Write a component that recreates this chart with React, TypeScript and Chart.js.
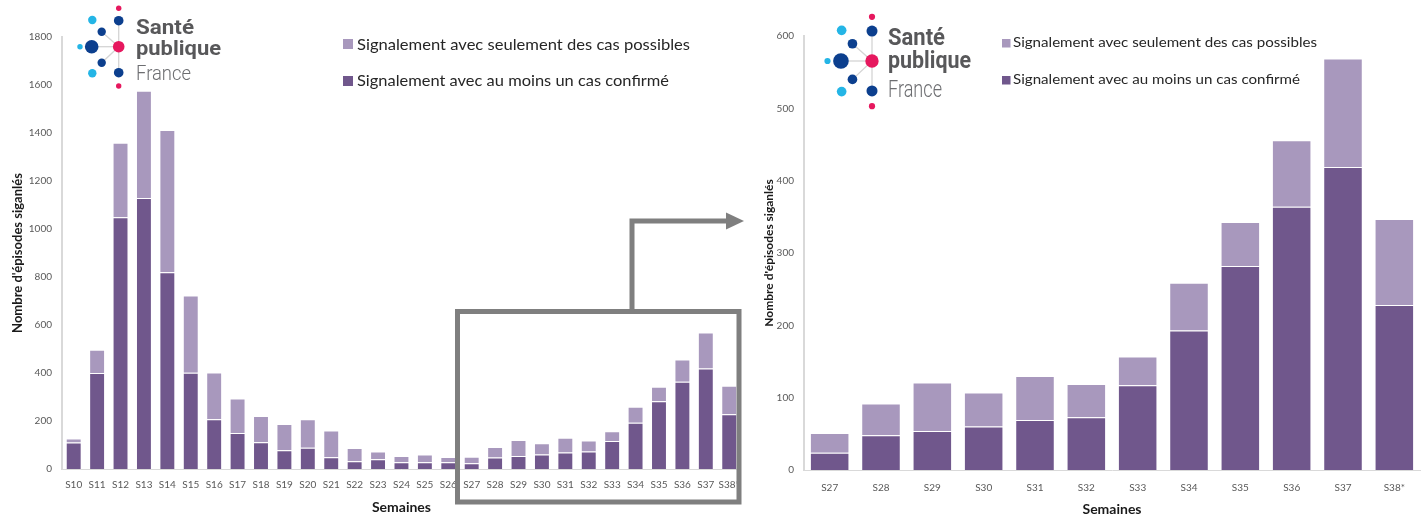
import React, { useEffect, useRef } from "react";
import { Chart, registerables } from "chart.js";

Chart.register(...registerables);

// ---------- DATA ----------
const weeks = [
  "S10", "S11", "S12", "S13", "S14", "S15", "S16", "S17", "S18", "S19",
  "S20", "S21", "S22", "S23", "S24", "S25", "S26", "S27", "S28", "S29",
  "S30", "S31", "S32", "S33", "S34", "S35", "S36", "S37", "S38*",
];
// Signalement avec au moins un cas confirmé
const confirmed = [
  110, 400, 1049, 1129, 820, 401, 207, 150, 111, 78,
  89, 49, 32, 41, 28, 28, 28, 24, 48, 54,
  60, 69, 73, 117, 193, 282, 364, 419, 228,
];
// Signalement avec seulement des cas possibles (stacked on top)
const possibleOnly = [
  17, 97, 310, 447, 592, 322, 195, 144, 110, 109,
  118, 111, 56, 32, 26, 32, 22, 27, 44, 67,
  47, 61, 46, 40, 66, 61, 92, 150, 119,
];
const zoomStart = 17; // S27 onward in the zoomed chart

const leftTicksMax = 1800;
const leftTicksStep = 200;
const rightTicksMax = 600;
const rightTicksStep = 100;

const legendPossible = "Signalement avec seulement des cas possibles";
const legendConfirmed = "Signalement avec au moins un cas confirmé";
const yTitle = "Nombre d'épisodes siganlés";
const xTitle = "Semaines";

// ---------- STYLE ----------
const DARK = "#70578c";
const LIGHT = "#a898bd";
const FONT = "Lato";

type Props = {
  labels: string[];
  conf: number[];
  poss: number[];
  max: number;
  step: number;
  left: number;
  width: number;
  padTop: number;
  padRight: number;
  yWidth: number;
  xHeight: number;
  barPct: number;
  tickPadX: number;
  xTitlePadBottom: number;
  yTitlePadTop: number;
  yTitleSize: number;
};

function StackedBars(p: Props) {
  const ref = useRef<HTMLCanvasElement | null>(null);
  useEffect(() => {
    if (!ref.current) return;
    const ds = (label: string, data: number[], color: string) => ({
      label,
      data,
      backgroundColor: color,
      borderColor: "rgba(255,255,255,0.45)",
      borderWidth: 1,
      barPercentage: p.barPct,
      categoryPercentage: 1,
    });
    const chart = new Chart(ref.current, {
      type: "bar",
      data: {
        labels: p.labels,
        datasets: [
          ds(legendConfirmed, p.conf, DARK),
          ds(legendPossible, p.poss, LIGHT),
        ],
      },
      options: {
        responsive: false,
        animation: false,
        devicePixelRatio: 1,
        layout: { padding: { top: p.padTop, right: p.padRight, left: 0, bottom: 0 } },
        plugins: { legend: { display: false }, tooltip: { enabled: false } },
        scales: {
          x: {
            stacked: true,
            grid: { display: false, drawTicks: false },
            border: { display: true, color: "#d9d9d9", width: 1 },
            ticks: {
              font: { family: FONT, size: 10 },
              color: "#595959",
              padding: p.tickPadX,
              maxRotation: 0,
              autoSkip: false,
            },
            title: {
              display: true,
              text: xTitle,
              font: { family: FONT, size: 14, weight: "bold" },
              color: "#1a1a1a",
              padding: { top: 0, bottom: p.xTitlePadBottom },
            },
            afterFit: (s: any) => {
              s.height = p.xHeight;
            },
          },
          y: {
            stacked: true,
            min: 0,
            max: p.max,
            grid: { display: false, drawTicks: false },
            border: { display: true, color: "#d9d9d9", width: 2 },
            ticks: {
              stepSize: p.step,
              font: { family: FONT, size: 10 },
              color: "#595959",
              padding: 10,
              callback: (v: any) => String(v),
            },
            title: {
              display: true,
              text: yTitle,
              font: { family: FONT, size: p.yTitleSize, weight: "bold" },
              color: "#1a1a1a",
              padding: { top: p.yTitlePadTop, bottom: 0 },
            },
            afterFit: (s: any) => {
              s.width = p.yWidth;
            },
          },
        },
      } as any,
    });
    return () => chart.destroy();
  }, []);
  return (
    <canvas
      ref={ref}
      width={p.width}
      height={520}
      style={{ position: "absolute", left: p.left, top: 0, width: p.width, height: 520 }}
    />
  );
}

const PINK = "#e6185e";
const BLUE = "#0c3f8e";
const CYAN = "#24b5e6";

const logoDots: [number, number, number, string][] = [
  [0, -38.4, 2.7, PINK],
  [0, -26, 4.8, BLUE],
  [-26.4, -26.7, 4.2, CYAN],
  [-17, -15, 4.2, BLUE],
  [-38.7, 0, 2.7, CYAN],
  [-27, 0, 6.8, BLUE],
  [0, 0, 5.8, PINK],
  [-17, 16, 4.2, BLUE],
  [-26.4, 26.6, 4.2, CYAN],
  [0, 26, 4.8, BLUE],
  [0, 39.3, 2.7, PINK],
];
const logoLines: [number, number][] = [
  [0, -26],
  [0, 26],
  [-27, 0],
  [-17, -15],
  [-17, 16],
];

function Logo({ cx, cy, s, tx, b1, b2, b3, fs, w1, w2, w3 }: any) {
  return (
    <g>
      {logoLines.map(([x, y], i) => (
        <line key={"l" + i} x1={cx} y1={cy} x2={cx + x * s} y2={cy + y * s} stroke="#d4d4d4" strokeWidth={1.3} />
      ))}
      {logoDots.map(([x, y, r, c], i) => (
        <circle key={"d" + i} cx={cx + x * s} cy={cy + y * s} r={r * s} fill={c} />
      ))}
      <text x={tx} y={b1} fontFamily="Roboto" fontWeight={700} fontSize={fs} fill="#58585a" textLength={w1} lengthAdjust="spacingAndGlyphs">Santé</text>
      <text x={tx} y={b2} fontFamily="Roboto" fontWeight={700} fontSize={fs} fill="#58585a" textLength={w2} lengthAdjust="spacingAndGlyphs">publique</text>
      <text x={tx} y={b3} fontFamily="Roboto" fontWeight={300} fontSize={fs} fill="#6d6e71" textLength={w3} lengthAdjust="spacingAndGlyphs">France</text>
    </g>
  );
}

function Legend({ x, y1, y2, sq, tx, b1, b2, fs, w1, w2 }: any) {
  return (
    <g>
      <rect x={x} y={y1} width={sq} height={sq} fill={LIGHT} />
      <text x={tx} y={b1} fontFamily={FONT} fontSize={fs} fill="#262626" textLength={w1} lengthAdjust="spacingAndGlyphs">{legendPossible}</text>
      <rect x={x} y={y2} width={sq} height={sq} fill={DARK} />
      <text x={tx} y={b2} fontFamily={FONT} fontSize={fs} fill="#262626" textLength={w2} lengthAdjust="spacingAndGlyphs">{legendConfirmed}</text>
    </g>
  );
}

export default function App() {
  return (
    <div style={{ position: "absolute", left: 0, top: 0, width: 1424, height: 520, background: "#fff", overflow: "hidden" }}>
      <StackedBars
        labels={weeks}
        conf={confirmed}
        poss={possibleOnly}
        max={leftTicksMax}
        step={leftTicksStep}
        left={0}
        width={750}
        padTop={37}
        padRight={8}
        yWidth={62}
        xHeight={51}
        barPct={0.68}
        tickPadX={10}
        xTitlePadBottom={4}
        yTitlePadTop={10}
        yTitleSize={13}
      />
      <StackedBars
        labels={weeks.slice(zoomStart)}
        conf={confirmed.slice(zoomStart)}
        poss={possibleOnly.slice(zoomStart)}
        max={rightTicksMax}
        step={rightTicksStep}
        left={750}
        width={674}
        padTop={36}
        padRight={4}
        yWidth={54}
        xHeight={50}
        barPct={0.77}
        tickPadX={12}
        xTitlePadBottom={2}
        yTitlePadTop={12}
        yTitleSize={12}
      />
      <svg width={1424} height={520} style={{ position: "absolute", left: 0, top: 0, pointerEvents: "none" }}>
        <Logo cx={118.7} cy={46.7} s={1} tx={136} b1={34} b2={55} b3={80} fs={21} w1={58} w2={85} w3={55} />
        <Logo cx={872} cy={61} s={1.15} tx={888} b1={45} b2={68} b3={97} fs={23} w1={57} w2={83} w3={54} />
        <Legend x={343} y1={39} y2={76} sq={10} tx={357} b1={50} b2={86} fs={16} w1={333} w2={312} />
        <Legend x={1002} y1={39} y2={76} sq={8.5} tx={1013} b1={47} b2={84} fs={14} w1={304} w2={287} />
        <rect x={457.5} y={311.5} width={281.5} height={190.5} fill="none" stroke="#7f7f7f" strokeWidth={5} />
        <polyline points="632,311 632,221 728,221" fill="none" stroke="#7f7f7f" strokeWidth={5} />
        <polygon points="726,212.5 744,221 726,229.5" fill="#7f7f7f" />
      </svg>
    </div>
  );
}
